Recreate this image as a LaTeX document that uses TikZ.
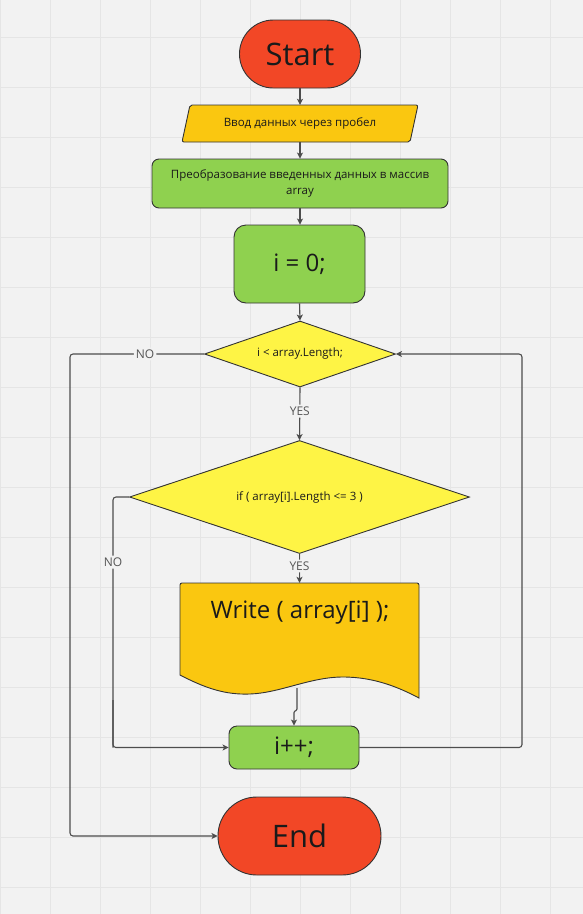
\documentclass[tikz,border=0pt]{standalone}
\usepackage{fontspec}
\setmainfont{Open Sans}
\usetikzlibrary{shapes.geometric,arrows.meta}
\definecolor{bg}{HTML}{F2F2F2}
\definecolor{gridc}{HTML}{E5E5E5}
\definecolor{redc}{HTML}{F24726}
\definecolor{orangec}{HTML}{FAC710}
\definecolor{greenc}{HTML}{8FD14F}
\definecolor{yellowc}{HTML}{FEF445}
\definecolor{linec}{HTML}{4D4D4D}
\definecolor{borderc}{HTML}{333333}
\definecolor{txtc}{HTML}{1A1A1A}
\definecolor{lblc}{HTML}{555555}
\tikzset{
  shapebox/.style={draw=borderc, line width=0.9pt, text=txtc, align=center, inner sep=0pt},
  termbox/.style={shapebox, fill=redc, rectangle, rounded corners=#1},
  procbox/.style={shapebox, fill=greenc, rectangle, rounded corners=#1},
  decbox/.style={shapebox, fill=yellowc, diamond},
  arr/.style={draw=linec, line width=1.1pt, -{Stealth[length=6pt,width=6pt,inset=1.5pt]}, rounded corners=3pt},
  conn/.style={draw=linec, line width=1.1pt, rounded corners=3pt},
  lbl/.style={fill=bg, text=lblc, inner sep=2pt, font=\fontsize{12}{14}\selectfont},
  small/.style={font=\fontsize{11.5}{16}\selectfont},
  big/.style={font=\fontsize{24}{28}\selectfont},
  huge/.style={font=\fontsize{31}{36}\selectfont},
}
\begin{document}
\begin{tikzpicture}[x=1pt,y=-1pt]
\useasboundingbox (0,0) rectangle (583,914);
\fill[bg] (0,0) rectangle (583,914);
\foreach \gx in {0,50,...,550} \draw[gridc, line width=0.7pt] (\gx,0) -- (\gx,914);
\foreach \gy in {37,87,...,887} \draw[gridc, line width=0.7pt] (0,\gy) -- (583,\gy);

% nodes
\node[termbox=33.9pt, minimum width=121pt, minimum height=68pt, huge] (start) at (300,54) {Start};

\node[minimum width=232pt, minimum height=37pt, inner sep=0pt] (inp) at (300,123.5) {};
\draw[shapebox, fill=orangec, rounded corners=2pt] (182,142) -- (190,105) -- (418,105) -- (410,142) -- cycle;
\node[text=txtc, small] at (inp) {Ввод данных через пробел};

\node[procbox=7pt, minimum width=296pt, minimum height=49pt, small] (conv) at (300,183.5) {Преобразование введенных данных в массив\\array};

\node[procbox=12pt, minimum width=131pt, minimum height=78pt, big] (init) at (299.5,264) {i = 0;};

\node[decbox, minimum width=191pt, minimum height=66pt, aspect=2.9, small] (d1) at (300,354) {i < array.Length;};

\node[decbox, minimum width=340pt, minimum height=113pt, aspect=3, small] (d2) at (299.5,497) {if ( array[i].Length <= 3 )};

\node[minimum width=239pt, minimum height=115pt, inner sep=0pt] (doc) at (299.5,640.5) {};
\draw[shapebox, fill=orangec] (180,675) -- (180,585) [rounded corners=2pt] -- (180,583) -- (419,583) [sharp corners] -- (419,698)
  .. controls (400,688) and (375,677) .. (343,677)
  .. controls (310,677) and (280,693) .. (250,694)
  .. controls (225,695) and (205,688) .. (180,675) -- cycle;
\node[text=txtc, big] at (300,613) {Write ( array[i] );};
\coordinate (docb) at (297,688);

\node[procbox=8pt, minimum width=130pt, minimum height=43pt, big] (inc) at (294,747.5) {i++;};

\node[termbox=38.9pt, minimum width=163pt, minimum height=78pt, huge] (fin) at (299.5,836) {End};

% connectors
\draw[arr] (start) -- (inp.north);
\draw[arr] (inp.south) -- (conv.north);
\draw[arr] (conv.south) -- (init.north -| conv.south);
\draw[arr] (init.south) -- (d1.north);
\draw[arr] (d1.south) -- node[lbl, pos=0.45] {YES} (d2.north);
\draw[arr] (d2.south) -- node[lbl, pos=0.42] {YES} (d2.south |- doc.north);
\draw[arr, rounded corners=1pt] (docb) -- (297,710) -- (294,711.5) -- (inc.north);

\coordinate (c1) at (70,354);
\draw[arr] (d1.west) -- node[lbl, pos=0.44] {NO} (c1) |- (fin.west);

\coordinate (c2) at (113,497);
\coordinate (c3) at (113,747.5);
\draw[conn] (d2.west) -- (c2) -- node[lbl, pos=0.26] {NO} (c3);
\draw[arr] (113,700) -- (c3) -- (inc.west);

\coordinate (c4) at (522,747.5);
\coordinate (c5) at (522,354);
\draw[arr] (inc.east) -- (c4) -- (c5) -- (d1.east);
\end{tikzpicture}
\end{document}
